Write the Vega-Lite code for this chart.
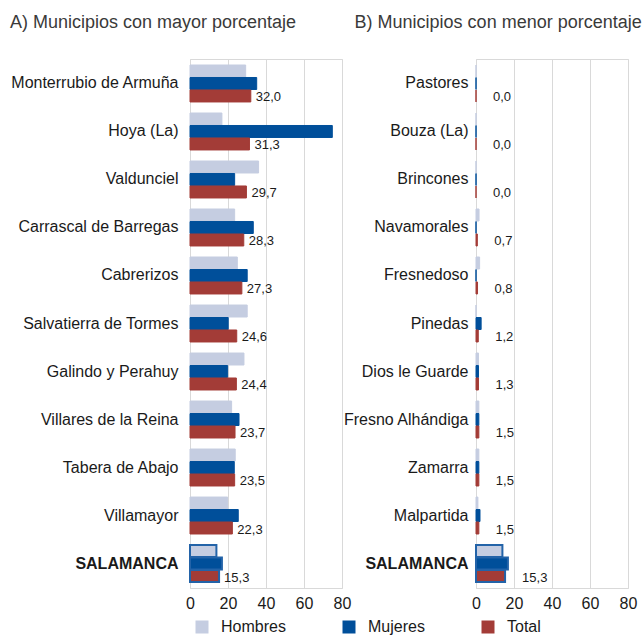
{
  "$schema": "https://vega.github.io/schema/vega-lite/v6.json",
  "padding": {"left": 9, "top": 13, "right": 0, "bottom": 0},
  "spacing": -10,
  "datasets": {
    "mayor": [
      {"municipio": "Monterrubio de Armuña", "serie": "Hombres", "valor": 29.3},
      {"municipio": "Monterrubio de Armuña", "serie": "Mujeres", "valor": 35.1},
      {"municipio": "Monterrubio de Armuña", "serie": "Total", "valor": 32.0},
      {"municipio": "Hoya (La)", "serie": "Hombres", "valor": 16.8},
      {"municipio": "Hoya (La)", "serie": "Mujeres", "valor": 74.9},
      {"municipio": "Hoya (La)", "serie": "Total", "valor": 31.3},
      {"municipio": "Valdunciel", "serie": "Hombres", "valor": 36.1},
      {"municipio": "Valdunciel", "serie": "Mujeres", "valor": 23.5},
      {"municipio": "Valdunciel", "serie": "Total", "valor": 29.7},
      {"municipio": "Carrascal de Barregas", "serie": "Hombres", "valor": 23.5},
      {"municipio": "Carrascal de Barregas", "serie": "Mujeres", "valor": 33.3},
      {"municipio": "Carrascal de Barregas", "serie": "Total", "valor": 28.3},
      {"municipio": "Cabrerizos", "serie": "Hombres", "valor": 24.9},
      {"municipio": "Cabrerizos", "serie": "Mujeres", "valor": 30.1},
      {"municipio": "Cabrerizos", "serie": "Total", "valor": 27.3},
      {"municipio": "Salvatierra de Tormes", "serie": "Hombres", "valor": 30.1},
      {"municipio": "Salvatierra de Tormes", "serie": "Mujeres", "valor": 20.1},
      {"municipio": "Salvatierra de Tormes", "serie": "Total", "valor": 24.6},
      {"municipio": "Galindo y Perahuy", "serie": "Hombres", "valor": 28.4},
      {"municipio": "Galindo y Perahuy", "serie": "Mujeres", "valor": 19.8},
      {"municipio": "Galindo y Perahuy", "serie": "Total", "valor": 24.4},
      {"municipio": "Villares de la Reina", "serie": "Hombres", "valor": 21.9},
      {"municipio": "Villares de la Reina", "serie": "Mujeres", "valor": 25.8},
      {"municipio": "Villares de la Reina", "serie": "Total", "valor": 23.7},
      {"municipio": "Tabera de Abajo", "serie": "Hombres", "valor": 23.8},
      {"municipio": "Tabera de Abajo", "serie": "Mujeres", "valor": 23.3},
      {"municipio": "Tabera de Abajo", "serie": "Total", "valor": 23.5},
      {"municipio": "Villamayor", "serie": "Hombres", "valor": 19.8},
      {"municipio": "Villamayor", "serie": "Mujeres", "valor": 25.4},
      {"municipio": "Villamayor", "serie": "Total", "valor": 22.3},
      {"municipio": "SALAMANCA", "serie": "Hombres", "valor": 13.9},
      {"municipio": "SALAMANCA", "serie": "Mujeres", "valor": 16.8},
      {"municipio": "SALAMANCA", "serie": "Total", "valor": 15.3}
    ],
    "menor": [
      {"municipio": "Pastores", "serie": "Hombres", "valor": 0},
      {"municipio": "Pastores", "serie": "Mujeres", "valor": 0},
      {"municipio": "Pastores", "serie": "Total", "valor": 0},
      {"municipio": "Bouza (La)", "serie": "Hombres", "valor": 0},
      {"municipio": "Bouza (La)", "serie": "Mujeres", "valor": 0},
      {"municipio": "Bouza (La)", "serie": "Total", "valor": 0},
      {"municipio": "Brincones", "serie": "Hombres", "valor": 0},
      {"municipio": "Brincones", "serie": "Mujeres", "valor": 0},
      {"municipio": "Brincones", "serie": "Total", "valor": 0},
      {"municipio": "Navamorales", "serie": "Hombres", "valor": 1.6},
      {"municipio": "Navamorales", "serie": "Mujeres", "valor": 0},
      {"municipio": "Navamorales", "serie": "Total", "valor": 0.7},
      {"municipio": "Fresnedoso", "serie": "Hombres", "valor": 1.9},
      {"municipio": "Fresnedoso", "serie": "Mujeres", "valor": 0},
      {"municipio": "Fresnedoso", "serie": "Total", "valor": 0.8},
      {"municipio": "Pinedas", "serie": "Hombres", "valor": 0},
      {"municipio": "Pinedas", "serie": "Mujeres", "valor": 2.7},
      {"municipio": "Pinedas", "serie": "Total", "valor": 1.2},
      {"municipio": "Dios le Guarde", "serie": "Hombres", "valor": 1.3},
      {"municipio": "Dios le Guarde", "serie": "Mujeres", "valor": 1.3},
      {"municipio": "Dios le Guarde", "serie": "Total", "valor": 1.3},
      {"municipio": "Fresno Alhándiga", "serie": "Hombres", "valor": 1.5},
      {"municipio": "Fresno Alhándiga", "serie": "Mujeres", "valor": 1.5},
      {"municipio": "Fresno Alhándiga", "serie": "Total", "valor": 1.5},
      {"municipio": "Zamarra", "serie": "Hombres", "valor": 1.5},
      {"municipio": "Zamarra", "serie": "Mujeres", "valor": 1.5},
      {"municipio": "Zamarra", "serie": "Total", "valor": 1.5},
      {"municipio": "Malpartida", "serie": "Hombres", "valor": 1.0},
      {"municipio": "Malpartida", "serie": "Mujeres", "valor": 2.1},
      {"municipio": "Malpartida", "serie": "Total", "valor": 1.5},
      {"municipio": "SALAMANCA", "serie": "Hombres", "valor": 13.9},
      {"municipio": "SALAMANCA", "serie": "Mujeres", "valor": 16.8},
      {"municipio": "SALAMANCA", "serie": "Total", "valor": 15.3}
    ]
  },
  "hconcat": [
    {
      "width": 152,
      "height": 529,
      "data": {"name": "mayor"},
      "title": {"text": "A) Municipios con mayor porcentaje", "anchor": "start", "frame": "bounds", "fontSize": 18, "font": "Liberation Sans", "fontWeight": "normal", "color": "#3a3a3a", "offset": 27},
      "encoding": {
        "y": {"field": "municipio", "type": "nominal", "sort": null,
          "scale": {"paddingInner": 0.23, "paddingOuter": 0.125},
          "axis": {"title": null, "ticks": false, "domain": false, "labelFontSize": 16, "labelFont": "Liberation Sans", "labelColor": "#1a1a1a", "labelPadding": 12, "labelLimit": 300, "minExtent": 180, "maxExtent": 180,
            "labelFontWeight": {"condition": {"test": "datum.value === 'SALAMANCA'", "value": "bold"}, "value": "normal"}}},
        "yOffset": {"field": "serie", "type": "nominal", "scale": {"domain": ["Hombres", "Mujeres", "Total"], "paddingInner": 0.04}},
        "x": {"field": "valor", "type": "quantitative", "scale": {"domain": [0, 80]},
          "axis": {"title": null, "values": [0, 20, 40, 60, 80], "ticks": false, "domain": false, "grid": true, "gridColor": "#d9d9d9", "labelFontSize": 16, "labelFont": "Liberation Sans", "labelColor": "#1a1a1a", "labelPadding": 7, "labelFlush": false}}
      },
      "layer": [
        {
          "mark": {"type": "bar"},
          "encoding": {
            "color": {"field": "serie", "type": "nominal", "scale": {"domain": ["Hombres", "Mujeres", "Total"], "range": ["#c5cde1", "#004f9a", "#a33c37"]},
              "legend": {"title": null, "orient": "none", "legendX": 4, "legendY": 560, "direction": "horizontal", "symbolType": "square", "symbolSize": 169, "symbolStrokeWidth": 0, "labelFontSize": 16, "labelFont": "Liberation Sans", "labelColor": "#1a1a1a", "labelOffset": 11, "columnPadding": 55, "padding": 0}},
            "stroke": {"condition": {"test": "datum.municipio === 'SALAMANCA'", "value": "#2363a8"}, "field": "serie", "type": "nominal", "scale": {"domain": ["Hombres", "Mujeres", "Total"], "range": ["#c5cde1", "#004f9a", "#a33c37"]}, "legend": null},
            "strokeWidth": {"condition": {"test": "datum.municipio === 'SALAMANCA'", "value": 2}, "value": 1}
          }
        },
        {
          "transform": [{"filter": "datum.serie === 'Total'"}],
          "mark": {"type": "text", "align": "left", "baseline": "middle", "dx": 5, "dy": 1.5, "fontSize": 13, "font": "Liberation Sans", "color": "#1a1a1a"},
          "encoding": {"text": {"field": "valor", "type": "quantitative", "format": ".1f"}}
        }
      ]
    },
    {
      "width": 152,
      "height": 529,
      "data": {"name": "menor"},
      "title": {"text": "B) Municipios con menor porcentaje", "anchor": "start", "frame": "bounds", "dx": 12, "fontSize": 18, "font": "Liberation Sans", "fontWeight": "normal", "color": "#3a3a3a", "offset": 27},
      "encoding": {
        "y": {"field": "municipio", "type": "nominal", "sort": null,
          "scale": {"paddingInner": 0.23, "paddingOuter": 0.125},
          "axis": {"title": null, "ticks": false, "domain": false, "labelFontSize": 16, "labelFont": "Liberation Sans", "labelColor": "#1a1a1a", "labelPadding": 8, "labelLimit": 300, "minExtent": 121, "maxExtent": 121,
            "labelFontWeight": {"condition": {"test": "datum.value === 'SALAMANCA'", "value": "bold"}, "value": "normal"}}},
        "yOffset": {"field": "serie", "type": "nominal", "scale": {"domain": ["Hombres", "Mujeres", "Total"], "paddingInner": 0.04}},
        "x": {"field": "valor", "type": "quantitative", "scale": {"domain": [0, 80]},
          "axis": {"title": null, "values": [0, 20, 40, 60, 80], "ticks": false, "domain": false, "grid": true, "gridColor": "#d9d9d9", "labelFontSize": 16, "labelFont": "Liberation Sans", "labelColor": "#1a1a1a", "labelPadding": 7, "labelFlush": false}}
      },
      "layer": [
        {
          "mark": {"type": "bar"},
          "encoding": {
            "color": {"field": "serie", "type": "nominal", "scale": {"domain": ["Hombres", "Mujeres", "Total"], "range": ["#c5cde1", "#004f9a", "#a33c37"]}},
            "stroke": {"condition": {"test": "datum.municipio === 'SALAMANCA'", "value": "#2363a8"}, "field": "serie", "type": "nominal", "scale": {"domain": ["Hombres", "Mujeres", "Total"], "range": ["#c5cde1", "#004f9a", "#a33c37"]}, "legend": null},
            "strokeWidth": {"condition": {"test": "datum.municipio === 'SALAMANCA'", "value": 2}, "value": 1}
          }
        },
        {
          "transform": [{"filter": "datum.serie === 'Total'"}],
          "mark": {"type": "text", "align": "left", "baseline": "middle", "dx": 17, "dy": 1.5, "fontSize": 13, "font": "Liberation Sans", "color": "#1a1a1a"},
          "encoding": {"text": {"field": "valor", "type": "quantitative", "format": ".1f"}}
        }
      ]
    }
  ],
  "config": {
    "view": {"stroke": "#d9d9d9", "strokeWidth": 1},
    "locale": {"number": {"decimal": ",", "thousands": ".", "grouping": [3], "currency": ["", " €"]}}
  }
}
